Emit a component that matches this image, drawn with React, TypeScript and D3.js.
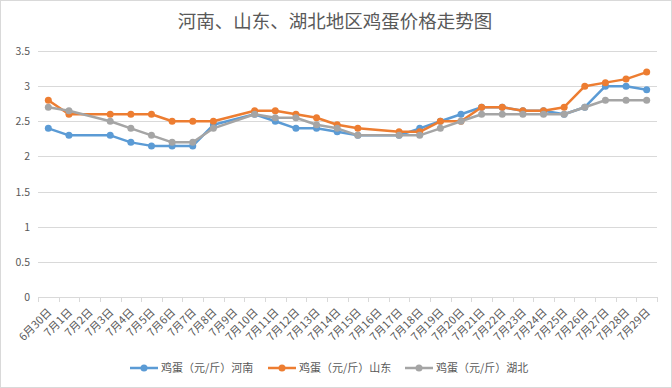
import { useEffect, useRef } from 'react';
import * as d3 from 'd3';

const days = [
  '6月30日', '7月1日', '7月2日', '7月3日', '7月4日', '7月5日', '7月6日', '7月7日', '7月8日', '7月9日',
  '7月10日', '7月11日', '7月12日', '7月13日', '7月14日', '7月15日', '7月16日', '7月17日', '7月18日', '7月19日',
  '7月20日', '7月21日', '7月22日', '7月23日', '7月24日', '7月25日', '7月26日', '7月27日', '7月28日', '7月29日',
];

// null = no price that day (line connects across the gap)
const henan = [
  2.4, 2.3, null, 2.3, 2.2, 2.15, 2.15, 2.15, 2.45, null,
  2.6, 2.5, 2.4, 2.4, 2.35, 2.3, null, 2.3, 2.4, 2.5,
  2.6, 2.7, 2.7, 2.65, 2.65, 2.6, 2.7, 3.0, 3.0, 2.95,
];
const shandong = [
  2.8, 2.6, null, 2.6, 2.6, 2.6, 2.5, 2.5, 2.5, null,
  2.65, 2.65, 2.6, 2.55, 2.45, 2.4, null, 2.35, 2.35, 2.5,
  2.5, 2.7, 2.7, 2.65, 2.65, 2.7, 3.0, 3.05, 3.1, 3.2,
];
const hubei = [
  2.7, 2.65, null, 2.5, 2.4, 2.3, 2.2, 2.2, 2.4, null,
  2.6, 2.55, 2.55, 2.45, 2.4, 2.3, null, 2.3, 2.3, 2.4,
  2.5, 2.6, 2.6, 2.6, 2.6, 2.6, 2.7, 2.8, 2.8, 2.8,
];

const yTicks = [0, 0.5, 1, 1.5, 2, 2.5, 3, 3.5];
const seriesNames = ['鸡蛋（元/斤）河南', '鸡蛋（元/斤）山东', '鸡蛋（元/斤）湖北'];
const seriesColors = ['#5B9BD5', '#ED7D31', '#A5A5A5'];
const title = '河南、山东、湖北地区鸡蛋价格走势图';

const W = 672;
const H = 388;
const FONT = '"Microsoft YaHei", "Noto Sans CJK SC", sans-serif';

function App() {
  const svgRef = useRef<SVGSVGElement>(null);

  useEffect(() => {
    const svg = d3.select(svgRef.current);
    svg.selectAll('*').remove();

    const left = 38;
    const right = 657;
    const top = 51;
    const bottom = 297;

    const x = d3.scaleBand().domain(days).range([left, right]);
    const y = d3.scaleLinear().domain([0, 3.5]).range([bottom, top]);

    // chart frame
    svg.append('rect')
      .attr('x', 0.5).attr('y', 0.5)
      .attr('width', W - 1).attr('height', H - 1)
      .attr('fill', '#fff').attr('stroke', '#d9d9d9');

    svg.append('text')
      .attr('x', 335).attr('y', 28)
      .attr('text-anchor', 'middle')
      .attr('font-family', FONT)
      .attr('font-size', 18.5)
      .attr('fill', '#595959')
      .text(title);

    // gridlines + y labels
    const yAxis = svg.append('g');
    yAxis.selectAll('line')
      .data(yTicks)
      .enter()
      .append('line')
      .attr('x1', left).attr('x2', right)
      .attr('y1', (d) => Math.round(y(d)) + 0.5)
      .attr('y2', (d) => Math.round(y(d)) + 0.5)
      .attr('stroke', '#d9d9d9');
    yAxis.selectAll('text')
      .data(yTicks)
      .enter()
      .append('text')
      .attr('x', 30)
      .attr('y', (d) => y(d) + 4)
      .attr('text-anchor', 'end')
      .attr('font-family', FONT)
      .attr('font-size', 10.5)
      .attr('fill', '#595959')
      .text((d) => String(d));

    // x axis tick marks between categories
    const bounds = days.map((d) => x(d) as number).concat([right]);
    svg.append('g')
      .selectAll('line')
      .data(bounds)
      .enter()
      .append('line')
      .attr('x1', (d) => Math.round(d) + 0.5)
      .attr('x2', (d) => Math.round(d) + 0.5)
      .attr('y1', bottom)
      .attr('y2', bottom + 5)
      .attr('stroke', '#d9d9d9');

    svg.append('g')
      .selectAll('text')
      .data(days)
      .enter()
      .append('text')
      .attr('transform', (d) => {
        const cx = (x(d) as number) + x.bandwidth() / 2 + 4;
        return `translate(${cx}, ${bottom + 16}) rotate(-45)`;
      })
      .attr('text-anchor', 'end')
      .attr('font-family', FONT)
      .attr('font-size', 11)
      .attr('fill', '#595959')
      .text((d) => d);

    const allSeries = [henan, shandong, hubei];
    const line = d3.line<[string, number]>()
      .x((d) => (x(d[0]) as number) + x.bandwidth() / 2)
      .y((d) => y(d[1]));

    allSeries.forEach((values, i) => {
      const pts = days
        .map((d, j) => [d, values[j]] as [string, number | null])
        .filter((p) => p[1] !== null) as [string, number][];
      const g = svg.append('g');
      g.append('path')
        .attr('d', line(pts))
        .attr('fill', 'none')
        .attr('stroke', seriesColors[i])
        .attr('stroke-width', 2.5)
        .attr('stroke-linejoin', 'round');
      g.selectAll('circle')
        .data(pts)
        .enter()
        .append('circle')
        .attr('cx', (d) => (x(d[0]) as number) + x.bandwidth() / 2)
        .attr('cy', (d) => y(d[1]))
        .attr('r', 3.5)
        .attr('fill', seriesColors[i]);
    });

    // legend
    const legendX = [130, 268, 405];
    const legend = svg.append('g');
    seriesNames.forEach((name, i) => {
      const lx = legendX[i];
      legend.append('line')
        .attr('x1', lx).attr('x2', lx + 28)
        .attr('y1', 368).attr('y2', 368)
        .attr('stroke', seriesColors[i])
        .attr('stroke-width', 2.5);
      legend.append('circle')
        .attr('cx', lx + 14).attr('cy', 368).attr('r', 3.5)
        .attr('fill', seriesColors[i]);
      legend.append('text')
        .attr('x', lx + 31).attr('y', 372)
        .attr('font-family', FONT)
        .attr('font-size', 11)
        .attr('fill', '#595959')
        .text(name);
    });
  }, []);

  return (
    <div style={{ position: 'fixed', left: 0, top: 0 }}>
      <svg ref={svgRef} width={W} height={H} style={{ display: 'block' }} />
    </div>
  );
}

export default App;
